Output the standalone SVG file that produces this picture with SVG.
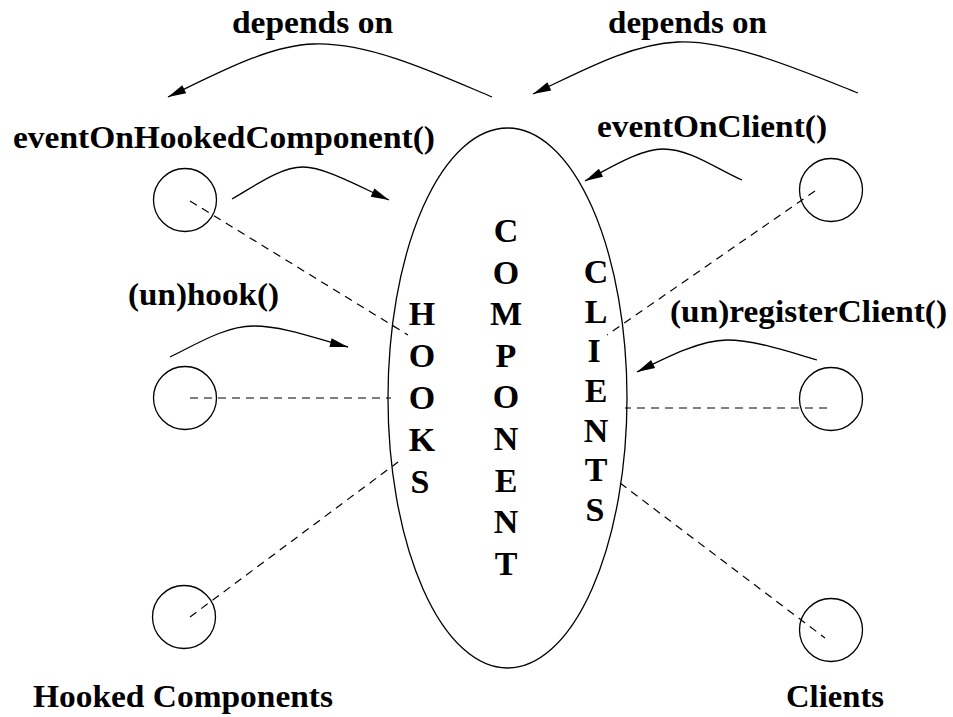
<svg xmlns="http://www.w3.org/2000/svg" width="953" height="717" viewBox="0 0 953 717">
  <style>
    .node { fill: none; stroke: #000; stroke-width: 1.3; }
    .link { fill: none; stroke: #000; stroke-width: 1.2; stroke-dasharray: 8 6; }
    .call { fill: none; stroke: #000; stroke-width: 1.3; marker-end: url(#head); }
    .label { font-family: "Liberation Serif", "Times New Roman", serif; font-weight: bold; font-size: 32px; fill: #000; }
    .letter { font-family: "Liberation Serif", "Times New Roman", serif; font-weight: bold; font-size: 34px; fill: #000; text-anchor: middle; }
  </style>
  <defs>
    <marker id="head" markerUnits="userSpaceOnUse" markerWidth="19" markerHeight="10" refX="18" refY="5" orient="auto" overflow="visible">
      <path d="M0,0.5 L18,5 L0,9.5 Z" fill="#000"/>
    </marker>
  </defs>
  <rect width="953" height="717" fill="#fff"/>

  <!-- central component -->
  <g id="component">
    <ellipse class="node" cx="507.5" cy="398" rx="119.5" ry="270"/>
    <g class="letter">
      <text x="506" y="242">C</text>
      <text x="506" y="283.6">O</text>
      <text x="506" y="325.2">M</text>
      <text x="506" y="366.8">P</text>
      <text x="506" y="408.4">O</text>
      <text x="506" y="450">N</text>
      <text x="506" y="491.6">E</text>
      <text x="506" y="533.2">N</text>
      <text x="506" y="574.8">T</text>
    </g>
  </g>
  <g id="hooks-label" class="letter">
    <text x="422" y="325">H</text>
    <text x="422" y="367">O</text>
    <text x="422" y="409">O</text>
    <text x="422" y="451">K</text>
    <text x="420" y="493">S</text>
  </g>
  <g id="clients-label" class="letter">
    <text x="596" y="283">C</text>
    <text x="596" y="323">L</text>
    <text x="594" y="362">I</text>
    <text x="596" y="402">E</text>
    <text x="596" y="442">N</text>
    <text x="596" y="481">T</text>
    <text x="595" y="521">S</text>
  </g>

  <!-- hooked components -->
  <g id="hooked-1"><circle class="node" cx="185" cy="200" r="31.5"/></g>
  <g id="hooked-2"><circle class="node" cx="185" cy="398" r="31.5"/></g>
  <g id="hooked-3"><circle class="node" cx="184" cy="617" r="31.5"/></g>

  <!-- clients -->
  <g id="client-1"><circle class="node" cx="831" cy="190" r="31.5"/></g>
  <g id="client-2"><circle class="node" cx="831" cy="399" r="31.5"/></g>
  <g id="client-3"><circle class="node" cx="831" cy="630" r="31.5"/></g>

  <!-- connectors -->
  <g id="connectors">
    <line class="link" x1="190" y1="201" x2="408" y2="335"/>
    <line class="link" x1="190" y1="398" x2="391" y2="398"/>
    <line class="link" x1="190" y1="617" x2="398" y2="462"/>
    <line class="link" x1="815" y1="191" x2="607" y2="335"/>
    <line class="link" x1="827" y1="408" x2="625" y2="408"/>
    <line class="link" x1="620" y1="483" x2="825" y2="638"/>

    <path class="call" d="M492,97 C440,75 370,42 314,44 C270,45 220,72 168,97"/>
    <path class="call" d="M858,93 C800,70 730,40 678,42 C630,44 580,72 533,94"/>
    <path class="call" d="M232,199 C255,186 280,167 303,167 C325,167 360,187 389,200"/>
    <path class="call" d="M170,357 C195,345 225,326 253,326 C285,326 320,340 348,347"/>
    <path class="call" d="M742,180 C715,168 690,149 663,149 C640,149 610,168 585,181"/>
    <path class="call" d="M817,360 C790,352 755,340 727,340 C700,340 665,358 637,372"/>
  </g>

  <!-- labels -->
  <g id="labels" class="label">
    <text x="232" y="33" textLength="161" lengthAdjust="spacingAndGlyphs">depends on</text>
    <text x="608" y="33" textLength="159" lengthAdjust="spacingAndGlyphs">depends on</text>
    <text x="13" y="148" textLength="422" lengthAdjust="spacingAndGlyphs">eventOnHookedComponent()</text>
    <text x="597" y="137" textLength="230" lengthAdjust="spacingAndGlyphs">eventOnClient()</text>
    <text x="128" y="305" textLength="151" lengthAdjust="spacingAndGlyphs">(un)hook()</text>
    <text x="670" y="322" textLength="277" lengthAdjust="spacingAndGlyphs">(un)registerClient()</text>
    <text x="33" y="707" textLength="300" lengthAdjust="spacingAndGlyphs">Hooked Components</text>
    <text x="786" y="707" textLength="98" lengthAdjust="spacingAndGlyphs">Clients</text>
  </g>
</svg>
